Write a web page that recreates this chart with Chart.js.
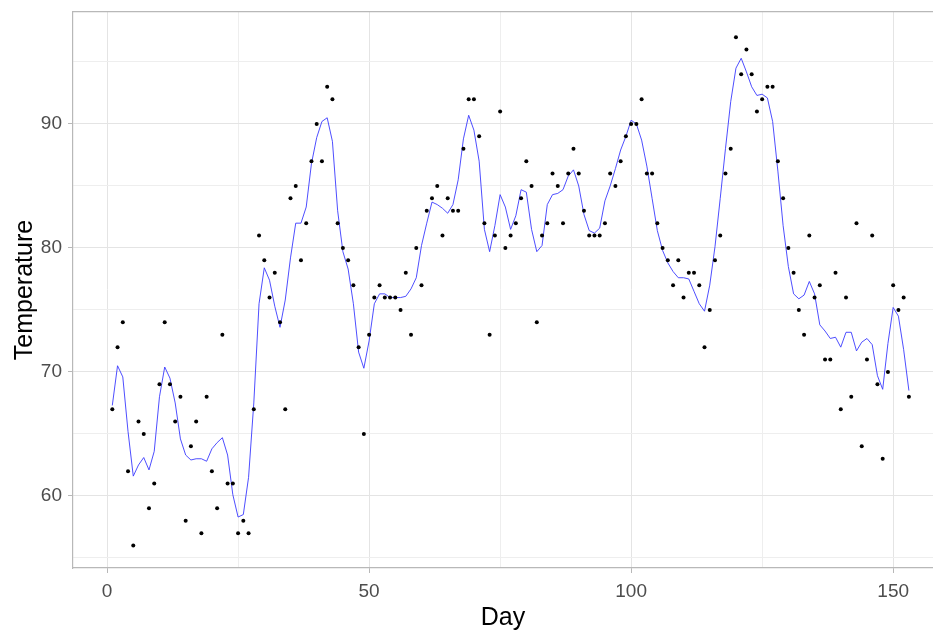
<!DOCTYPE html>
<html>
<head>
<meta charset="utf-8">
<script src="https://cdn.jsdelivr.net/npm/chart.js@4.4.0/dist/chart.umd.min.js"></script>
<style>
  html, body { margin: 0; padding: 0; background: #fff; }
  #wrap { width: 933px; height: 633px; }
</style>
</head>
<body>
<div id="wrap"><canvas id="tempChart"></canvas></div>
<script>
// day index (1 May .. 30 Sep)
var days = [
  1,2,3,4,5,6,7,8,9,10,11,12,13,14,15,16,17,18,19,20,21,22,23,24,25,26,27,28,29,30,
  31,32,33,34,35,36,37,38,39,40,41,42,43,44,45,46,47,48,49,50,51,52,53,54,55,56,57,58,59,60,
  61,62,63,64,65,66,67,68,69,70,71,72,73,74,75,76,77,78,79,80,81,82,83,84,85,86,87,88,89,90,
  91,92,93,94,95,96,97,98,99,100,101,102,103,104,105,106,107,108,109,110,111,112,113,114,115,116,117,118,119,120,
  121,122,123,124,125,126,127,128,129,130,131,132,133,134,135,136,137,138,139,140,141,142,143,144,145,146,147,148,149,150,
  151,152,153
];

// observed temperature per day
var temps = [
  67,72,74,62,56,66,65,59,61,69,74,69,66,68,58,64,66,57,68,62,59,73,61,61,57,58,57,67,81,79,76,
  78,74,67,84,85,79,82,87,90,87,93,92,82,80,79,77,72,65,73,76,77,76,76,76,75,78,73,80,77,83,
  84,85,81,84,83,83,88,92,92,89,82,73,81,91,80,81,82,84,87,85,74,81,82,86,85,82,86,88,86,83,81,
  81,81,82,86,85,87,89,90,90,92,86,86,82,80,79,77,79,76,78,78,77,72,75,79,81,86,88,97,94,96,94,
  91,92,93,93,87,84,80,78,75,73,81,76,77,71,71,78,67,76,68,82,64,71,81,69,63,70,77,75,76,68
];

// smoothed curve at each day
var smooth = [
  67.3,70.5,69.6,65.2,61.6,62.5,63.1,62.1,63.6,68.0,70.4,69.5,67.5,64.6,63.3,62.9,63.0,63.0,62.8,63.8,
  64.3,64.7,63.3,60.1,58.3,58.5,61.5,67.5,75.5,78.4,77.4,75.3,73.6,75.8,79.2,82.0,82.0,83.3,86.8,88.9,
  90.2,90.5,88.6,83.0,79.7,78.3,75.5,71.6,70.3,72.5,75.5,76.3,76.3,76.0,76.0,76.0,76.1,76.7,77.6,80.2,
  82.0,83.7,83.5,83.2,82.8,83.5,85.5,88.8,90.7,89.5,87.0,81.5,79.7,81.8,84.3,83.3,81.5,82.6,84.7,84.5,
  81.5,79.7,80.2,83.5,84.3,84.4,84.7,85.8,86.3,85.0,82.7,81.4,81.2,81.6,83.8,85.0,86.4,87.9,89.0,90.3,
  90.0,88.7,86.6,84.0,81.4,79.8,78.8,78.1,77.6,77.6,77.5,76.5,75.5,74.9,77.0,80.1,84.0,88.0,91.8,94.5,
  95.3,94.2,93.0,92.3,92.4,92.1,90.2,86.2,81.8,78.5,76.3,75.9,76.2,77.3,76.3,73.8,73.3,72.7,72.8,72.0,
  73.2,73.2,71.7,72.4,72.7,72.2,69.7,68.6,72.3,75.2,74.5,71.8,68.5
];

var xTicks = [0, 25, 50, 75, 100, 125, 150];
var xLabels = [0, 50, 100, 150];
var yTicks = [55, 60, 65, 70, 75, 80, 85, 90, 95];
var yLabels = [60, 70, 80, 90];

var pointData = days.map(function (d, i) { return { x: d, y: temps[i] }; });
var lineData = days.map(function (d, i) { return { x: d, y: smooth[i] }; });

var axisGrey = '#b8b8b8';
var tickFont = { family: 'Liberation Sans, Arial, sans-serif', size: 19 };
var titleFont = { family: 'Liberation Sans, Arial, sans-serif', size: 25 };

function gridCol(major) {
  return function (c) {
    if (!c.tick) return 'rgba(0,0,0,0)';
    return major.indexOf(c.tick.value) >= 0 ? '#e4e4e4' : '#eeeeee';
  };
}
function tickCol(major) {
  return function (c) {
    if (!c.tick) return 'rgba(0,0,0,0)';
    return major.indexOf(c.tick.value) >= 0 ? axisGrey : 'rgba(0,0,0,0)';
  };
}
function noPad(s) {
  s.paddingTop = 0; s.paddingBottom = 0; s.paddingLeft = 0; s.paddingRight = 0;
}

var ctx = document.getElementById('tempChart').getContext('2d');

var tempChart = new Chart(ctx, {
  type: 'scatter',
  data: {
    datasets: [
      {
        label: 'Temp',
        data: pointData,
        pointRadius: 2,
        pointBackgroundColor: '#000000',
        pointBorderWidth: 0,
        showLine: false,
        order: 1
      },
      {
        label: 'Smooth',
        data: lineData,
        showLine: true,
        pointRadius: 0,
        borderColor: '#3a3aff',
        borderWidth: 0.9,
        tension: 0,
        fill: false,
        order: 2
      }
    ]
  },
  options: {
    responsive: true,
    maintainAspectRatio: false,
    animation: false,
    layout: { autoPadding: false, padding: { left: 0, right: 0, top: 12, bottom: 0 } },
    plugins: {
      legend: { display: false },
      tooltip: { enabled: false }
    },
    scales: {
      x: {
        type: 'linear',
        position: 'bottom',
        min: -6.5,
        max: 157.6,
        afterBuildTicks: function (s) { s.ticks = xTicks.map(function (v) { return { value: v }; }); },
        afterFit: function (s) { s.height = 65; noPad(s); },
        ticks: {
          autoSkip: false,
          maxRotation: 0,
          padding: 7,
          color: '#4d4d4d',
          font: tickFont,
          callback: function (v) { return xLabels.indexOf(v) >= 0 ? String(v) : ''; }
        },
        grid: {
          color: gridCol(xLabels),
          tickColor: tickCol(xLabels),
          tickLength: 5,
          lineWidth: 1
        },
        border: { display: true, color: axisGrey, width: 1.2 },
        title: {
          display: true,
          text: 'Day',
          color: '#000000',
          font: titleFont,
          padding: { top: 0, bottom: 0 }
        }
      },
      xTop: {
        type: 'linear',
        position: 'top',
        min: -6.5,
        max: 157.6,
        afterFit: function (s) { s.height = 0; noPad(s); },
        ticks: { display: false },
        grid: { display: false },
        border: { display: true, color: axisGrey, width: 1.2 }
      },
      y: {
        type: 'linear',
        position: 'left',
        min: 54.19,
        max: 99.03,
        afterBuildTicks: function (s) { s.ticks = yTicks.map(function (v) { return { value: v }; }); },
        afterFit: function (s) { s.width = 73; noPad(s); },
        ticks: {
          autoSkip: false,
          padding: 6,
          color: '#4d4d4d',
          font: tickFont,
          callback: function (v) { return yLabels.indexOf(v) >= 0 ? String(v) : ''; }
        },
        grid: {
          color: gridCol(yLabels),
          tickColor: tickCol(yLabels),
          tickLength: 5,
          lineWidth: 1
        },
        border: { display: true, color: axisGrey, width: 1.2 },
        title: {
          display: true,
          text: 'Temperature',
          color: '#000000',
          font: titleFont,
          padding: { top: 10, bottom: 0 }
        }
      }
    }
  }
});
</script>
</body>
</html>
